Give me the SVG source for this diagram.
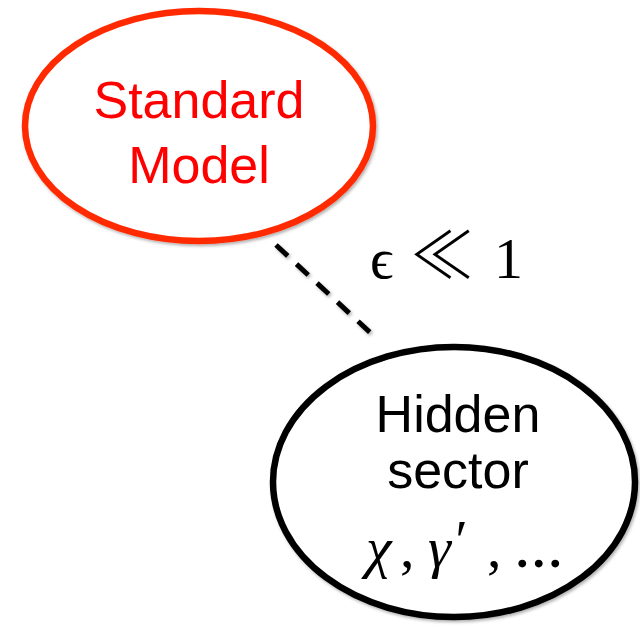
<svg xmlns="http://www.w3.org/2000/svg" width="640" height="629" viewBox="0 0 640 629">
  <defs>
    <filter id="shadow" x="-10%" y="-10%" width="120%" height="120%">
      <feDropShadow dx="1.5" dy="2" stdDeviation="1.5" flood-color="#000" flood-opacity="0.3"/>
    </filter>
    <style>
      .node-shape { fill: #fff; stroke-width: 6.5; filter: url(#shadow); }
      .sans { font-family: "Liberation Sans", Arial, sans-serif; font-size: 52px; text-anchor: middle; }
      .math { font-family: "Liberation Serif", "DejaVu Serif", serif; font-size: 58px; fill: #000; }
      .rel { font-family: "Noto Sans CJK JP", "DejaVu Sans", sans-serif; font-weight: 300; }
    </style>
  </defs>
  <rect width="640" height="629" fill="#fff"/>

  <!-- connector between the two sectors -->
  <g id="connectors">
    <line x1="276" y1="245" x2="376" y2="338" stroke="#000" stroke-width="5" stroke-dasharray="16 12" filter="url(#shadow)"/>
  </g>

  <g id="standard-model">
    <ellipse class="node-shape" cx="199" cy="126" rx="174" ry="115" stroke="#ff2a00"/>
    <text class="sans" x="199" y="118" fill="#ff0000">Standard</text>
    <text class="sans" x="199" y="183" fill="#ff0000">Model</text>
  </g>

  <g id="hidden-sector">
    <ellipse class="node-shape" cx="454" cy="482" rx="181" ry="135" stroke="#000"/>
    <text class="sans" x="458" y="432" fill="#000">Hidden</text>
    <text class="sans" x="458" y="488" fill="#000">sector</text>
    <text class="math" y="567" font-style="italic" font-size="64"><tspan x="366">χ</tspan><tspan x="400" font-style="normal">,</tspan><tspan x="428">γ</tspan><tspan x="452" y="560" font-size="56">′</tspan><tspan x="487" y="567" font-style="normal">,</tspan><tspan x="514" font-style="normal" font-size="66">...</tspan></text>
  </g>

  <g id="coupling-label">
    <text class="math" y="278"><tspan x="370">ϵ</tspan><tspan x="410" class="rel" font-size="64">≪</tspan><tspan x="494">1</tspan></text>
  </g>
</svg>
